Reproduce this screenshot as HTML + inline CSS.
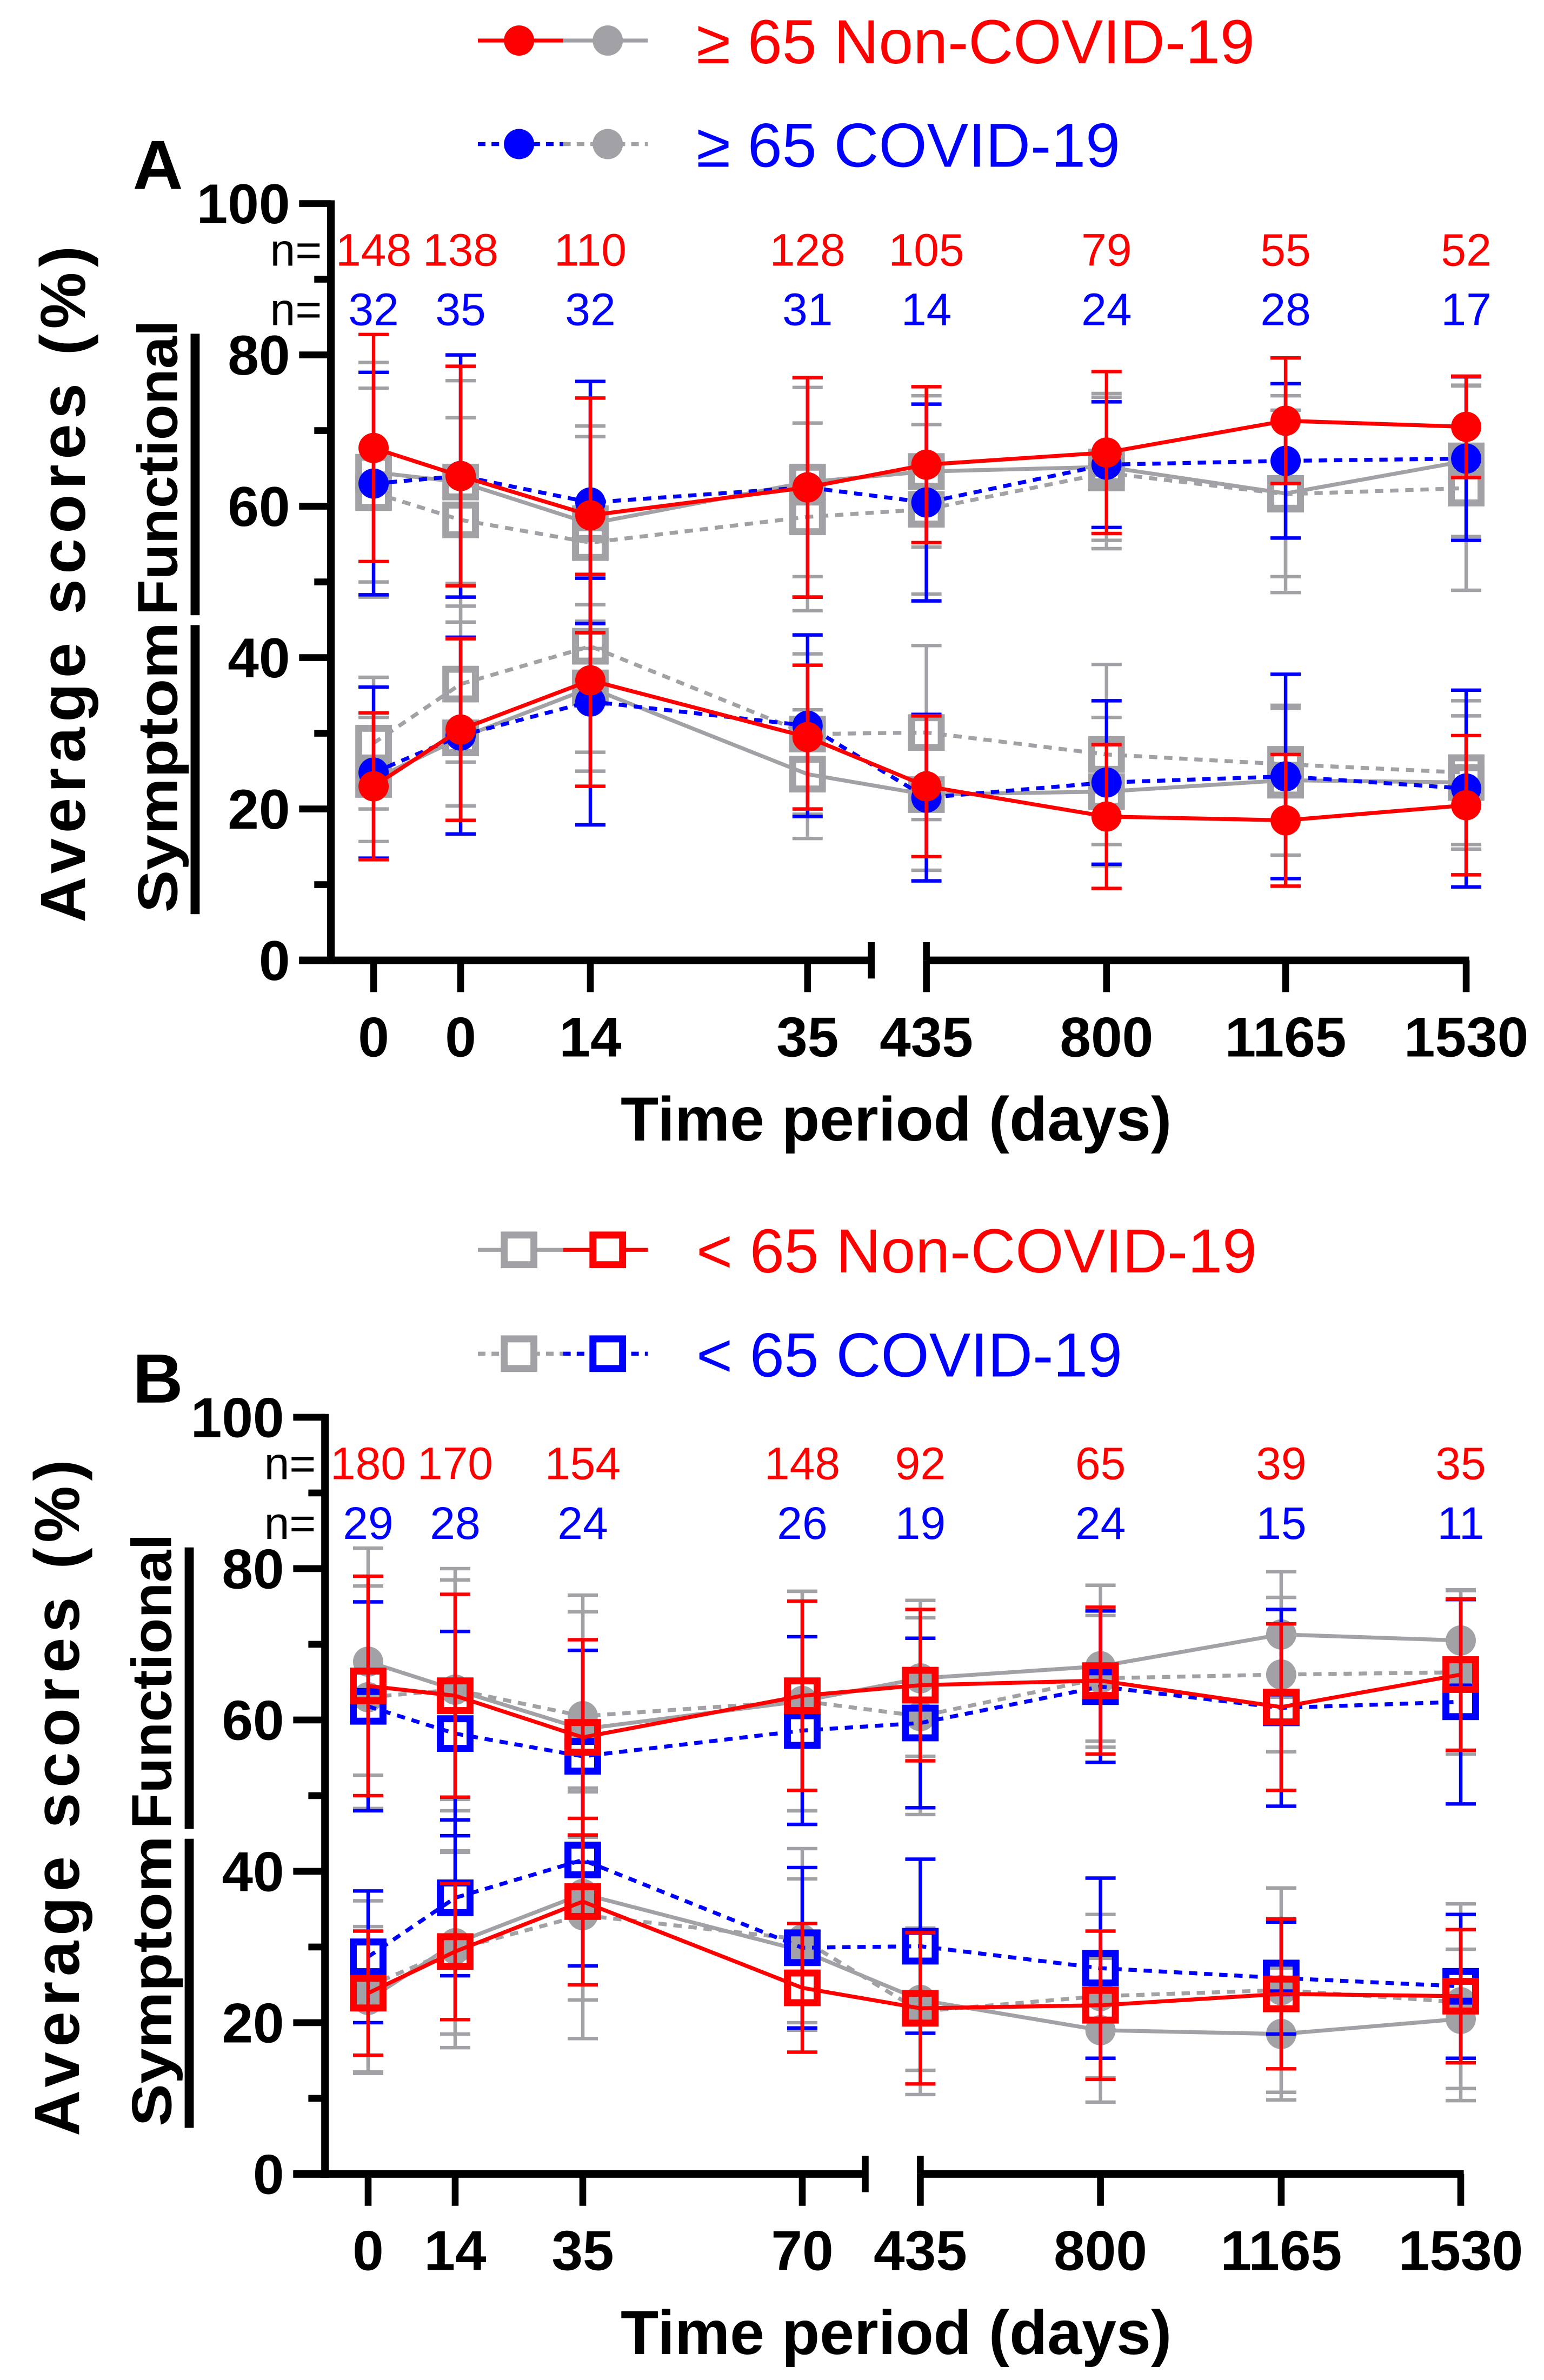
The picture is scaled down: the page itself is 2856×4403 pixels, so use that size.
<!DOCTYPE html>
<html><head><meta charset="utf-8"><style>
html,body{margin:0;padding:0;background:#fff;}
svg{display:block;}
text{font-family:"Liberation Sans",Arial,sans-serif;}
</style></head><body>
<svg id="fig" xmlns="http://www.w3.org/2000/svg" width="2856" height="4403" viewBox="0 0 1020 1572.5"></svg>
<script>
// ---- data ----
var categoriesA = ["0","0","14","35","435","800","1165","1530"];
var categoriesB = ["0","14","35","70","435","800","1165","1530"];
var nA_red = [148,138,110,128,105,79,55,52];
var nA_blue = [32,35,32,31,14,24,28,17];
var nB_red = [180,170,154,148,92,65,39,35];
var nB_blue = [29,28,24,26,19,24,15,11];
var yTicks = [0,20,40,60,80,100];
// >=65 non-COVID
var old_nc_func = [67.7,64,58.8,62.5,65.5,67.1,71.3,70.5];
var old_nc_func_err = [15,14.5,15.5,14.5,10.3,10.7,8.3,6.7];
var old_nc_sym = [23,30.5,37,29.5,23,19,18.5,20.5];
var old_nc_sym_err = [9.7,12,14,9.5,9.3,9.5,8.7,9.2];
// >=65 COVID
var old_c_func = [63,64,60.5,62.5,60.5,65.5,66,66.3];
var old_c_func_err = [14.7,16,16,14.5,13,8.3,10.2,10.8];
var old_c_sym = [24.8,29.7,34.2,31,21.5,23.5,24.3,22.7];
var old_c_sym_err = [11.3,13,16.3,12,11,10.8,13.5,13];
// <65 non-COVID
var young_nc_func = [64.5,63.2,57.7,63.2,64.6,65.2,61.7,66];
var young_nc_func_err = [14.5,13.4,12.9,12.5,10,9.7,11,10];
var young_nc_sym = [23.9,29.4,36,24.6,21.9,22.3,23.8,23.5];
var young_nc_sym_err = [8.2,9,11,8.5,10,9.8,9.9,8.8];
// <65 COVID
var young_c_func = [61.8,58.2,55.2,58.6,59.6,64.4,61.6,62.4];
var young_c_func_err = [13.8,13.5,14,12.4,11.2,10,13,13.5];
var young_c_sym = [28.7,36.5,41.5,29.9,30.1,27.2,25.9,24.8];
var young_c_sym_err = [8.7,10.3,14,10.6,11.5,11.9,7.4,9.5];

var RED="#ff0000", BLUE="#0000ff", GRAY="#a2a2a6";
var NS="http://www.w3.org/2000/svg";
var svg=document.getElementById('fig');
function el(tag, attrs, parent){var e=document.createElementNS(NS,tag);for(var k in attrs)e.setAttribute(k,attrs[k]);(parent||svg).appendChild(e);return e;}
function txt(s, attrs, parent){var t=el('text',attrs,parent);t.textContent=s;return t;}

function drawPanel(P){
  var g=el('g',{});
  
  
  function ys(v){return P.y0 - v*5;}
  function xs(i){return P.slots[i];}
  // axes
  var ax=el('g',{},g);
  
  
  el('line',{x1:P.ax,y1:ys(100)-2.2,x2:P.ax,y2:P.y0+2.5,stroke:'#000','stroke-width':5},ax);
  for(var v=0;v<=100;v+=10){
    var major=(v%20===0);
    el('line',{x1:P.ax-(major?21:11),y1:ys(v),x2:P.ax,y2:ys(v),stroke:'#000','stroke-width':4.5},ax);
  }
  yTicks.forEach(function(v){
    var t=txt(String(v),{x:P.ax-27,y:ys(v)+13,'font-size':37,'font-weight':'bold','text-anchor':'end'},ax);
    
    
  });
  var xa=el('g',{},g);
  
  
  el('line',{x1:P.ax-21,y1:P.y0,x2:P.seg1End,y2:P.y0,stroke:'#000','stroke-width':5},xa);
  el('line',{x1:P.seg1End,y1:P.y0-12,x2:P.seg1End,y2:P.y0+12,stroke:'#000','stroke-width':4.5},xa);
  el('line',{x1:P.slots[4],y1:P.y0,x2:P.slots[7]+2,y2:P.y0,stroke:'#000','stroke-width':5},xa);
  el('line',{x1:P.slots[4],y1:P.y0-12,x2:P.slots[4],y2:P.y0,stroke:'#000','stroke-width':4.5},xa);
  P.cats.forEach(function(c,i){
    el('line',{x1:xs(i),y1:P.y0,x2:xs(i),y2:P.y0+21,stroke:'#000','stroke-width':4.5},xa);
    var t=txt(c,{x:xs(i),y:P.y0+63.5,'font-size':37,'font-weight':'bold','text-anchor':'middle'},xa);
    
    
  });
  var xt=txt('Time period (days)',{x:592,y:P.y0+119,'font-size':41,'font-weight':'bold','text-anchor':'middle',textLength:364,lengthAdjust:'spacingAndGlyphs'},g);
  
  
  var yt=txt('Average scores (%)',{x:0,y:0,'font-size':42,'font-weight':'bold','text-anchor':'middle',textLength:447,lengthAdjust:'spacing',transform:'translate('+(P.ax-162.6)+','+(P.y0-248.5)+') rotate(-90)'},g);
  
  
  var fx=P.ax-101.6;
  var ft=txt('Functional',{x:0,y:0,'font-size':37,'font-weight':'bold','text-anchor':'middle',textLength:195,lengthAdjust:'spacingAndGlyphs',transform:'translate('+fx+','+(P.y0-325.5)+') rotate(-90)'},g);
  
  
  var st=txt('Symptom',{x:0,y:0,'font-size':37,'font-weight':'bold','text-anchor':'middle',textLength:192,lengthAdjust:'spacingAndGlyphs',transform:'translate('+fx+','+(P.y0-127.5)+') rotate(-90)'},g);
  
  
  var b1=el('rect',{x:P.ax-92.7,y:P.y0-414,width:6,height:186,fill:'#000'},g);
  
  
  var b2=el('rect',{x:P.ax-92.7,y:P.y0-221.5,width:6,height:191,fill:'#000'},g);
  
  
  var pl=txt(P.letter,{x:87.7,y:P.y0-509.7,'font-size':46,'font-weight':'bold'},g);
  
  
  // n labels
  var n1=txt('n=',{x:P.ax-6,y:ys(100)+41,'font-size':30,'text-anchor':'end'},g);
  
  
  var n2=txt('n=',{x:P.ax-6,y:ys(100)+80.3,'font-size':30,'text-anchor':'end'},g);
  
  
  P.nRed.forEach(function(n,i){
    var t=txt(String(n),{x:xs(i),y:ys(100)+41,'font-size':30,'text-anchor':'middle',fill:RED},g);
    
    
  });
  P.nBlue.forEach(function(n,i){
    var t=txt(String(n),{x:xs(i),y:ys(100)+80.3,'font-size':30,'text-anchor':'middle',fill:BLUE},g);
    
    
  });
  // series
  P.series.forEach(function(S){
    var sg=el('g',{},g);
    
    
    // error bars
    S.vals.forEach(function(v,i){
      var e=S.err[i], x=xs(i);
      var eb=el('g',{stroke:S.color,'stroke-width':2.3,fill:'none'},sg);
      
      
      el('line',{x1:x,y1:ys(v+e),x2:x,y2:ys(v-e)},eb);
      el('line',{x1:x-10,y1:ys(v+e),x2:x+10,y2:ys(v+e)},eb);
      el('line',{x1:x-10,y1:ys(v-e),x2:x+10,y2:ys(v-e)},eb);
    });
    var pts=S.vals.map(function(v,i){return xs(i)+','+ys(v);}).join(' ');
    var ln=el('polyline',{points:pts,fill:'none',stroke:S.color,'stroke-width':2.6},sg);
    if(S.dash) ln.setAttribute('stroke-dasharray','5.5 4.5');
    
    
    S.vals.forEach(function(v,i){
      var m;
      if(S.marker==='circle'){
        m=el('circle',{cx:xs(i),cy:ys(v),r:10,fill:S.color},sg);
      } else {
        m=el('rect',{x:xs(i)-9.8,y:ys(v)-9.8,width:19.6,height:19.6,fill:'none',stroke:S.color,'stroke-width':4.6},sg);
      }
      
      
    });
  });
}

function legendRow(y, c1, c2, dash, marker1, marker2, label, color, name){
  var g=el('g',{});
  
  
  var l1=el('line',{x1:315.7,y1:y,x2:372,y2:y,stroke:c1,'stroke-width':2.6},g);
  var l2=el('line',{x1:372,y1:y,x2:428,y2:y,stroke:c2,'stroke-width':2.6},g);
  if(dash){l1.setAttribute('stroke-dasharray','5 4');l2.setAttribute('stroke-dasharray','5 4');}
  [[342.9,c1,marker1],[401.5,c2,marker2]].forEach(function(m){
    if(m[2]==='circle') el('circle',{cx:m[0],cy:y,r:10,fill:m[1]},g);
    else el('rect',{x:m[0]-9.8,y:y-9.8,width:19.6,height:19.6,fill:'#fff',stroke:m[1],'stroke-width':4.6},g);
  });
  txt(label,{x:460,y:y+15,'font-size':41,fill:color},g);
}

var layoutA={name:'panel-a',letter:'A',y0:634.5,ax:218.6,seg1End:575.6,slots:[246.8,304.3,390,533.5,612,731,849.3,968.6],cats:categoriesA,nRed:nA_red,nBlue:nA_blue};
layoutA.series=[
  {name:'series-lt65-covid-functional',vals:young_c_func,err:young_c_func_err,color:GRAY,dash:true,marker:'square'},
  {name:'series-lt65-covid-symptom',vals:young_c_sym,err:young_c_sym_err,color:GRAY,dash:true,marker:'square'},
  {name:'series-lt65-noncovid-functional',vals:young_nc_func,err:young_nc_func_err,color:GRAY,dash:false,marker:'square'},
  {name:'series-lt65-noncovid-symptom',vals:young_nc_sym,err:young_nc_sym_err,color:GRAY,dash:false,marker:'square'},
  {name:'series-ge65-covid-functional',vals:old_c_func,err:old_c_func_err,color:BLUE,dash:true,marker:'circle'},
  {name:'series-ge65-covid-symptom',vals:old_c_sym,err:old_c_sym_err,color:BLUE,dash:true,marker:'circle'},
  {name:'series-ge65-noncovid-functional',vals:old_nc_func,err:old_nc_func_err,color:RED,dash:false,marker:'circle'},
  {name:'series-ge65-noncovid-symptom',vals:old_nc_sym,err:old_nc_sym_err,color:RED,dash:false,marker:'circle'}
];
var layoutB={name:'panel-b',letter:'B',y0:1436.4,ax:214.7,seg1End:571.6,slots:[243.2,300.7,385,530,608,727,846.4,965],cats:categoriesB,nRed:nB_red,nBlue:nB_blue};
layoutB.series=[
  {name:'series-ge65-covid-functional',vals:old_c_func,err:old_c_func_err,color:GRAY,dash:true,marker:'circle'},
  {name:'series-ge65-covid-symptom',vals:old_c_sym,err:old_c_sym_err,color:GRAY,dash:true,marker:'circle'},
  {name:'series-ge65-noncovid-functional',vals:old_nc_func,err:old_nc_func_err,color:GRAY,dash:false,marker:'circle'},
  {name:'series-ge65-noncovid-symptom',vals:old_nc_sym,err:old_nc_sym_err,color:GRAY,dash:false,marker:'circle'},
  {name:'series-lt65-covid-functional',vals:young_c_func,err:young_c_func_err,color:BLUE,dash:true,marker:'square'},
  {name:'series-lt65-covid-symptom',vals:young_c_sym,err:young_c_sym_err,color:BLUE,dash:true,marker:'square'},
  {name:'series-lt65-noncovid-functional',vals:young_nc_func,err:young_nc_func_err,color:RED,dash:false,marker:'square'},
  {name:'series-lt65-noncovid-symptom',vals:young_nc_sym,err:young_nc_sym_err,color:RED,dash:false,marker:'square'}
];
drawPanel(layoutA);
drawPanel(layoutB);
legendRow(26.8,RED,GRAY,false,'circle','circle','\u2265 65 Non-COVID-19',RED,'legend-entry-ge65-noncovid');
legendRow(95.2,BLUE,GRAY,true,'circle','circle','\u2265 65 COVID-19',BLUE,'legend-entry-ge65-covid');
legendRow(825.8,GRAY,RED,false,'square','square','< 65 Non-COVID-19',RED,'legend-entry-lt65-noncovid');
legendRow(894.4,GRAY,BLUE,true,'square','square','< 65 COVID-19',BLUE,'legend-entry-lt65-covid');
</script>
</body></html>
